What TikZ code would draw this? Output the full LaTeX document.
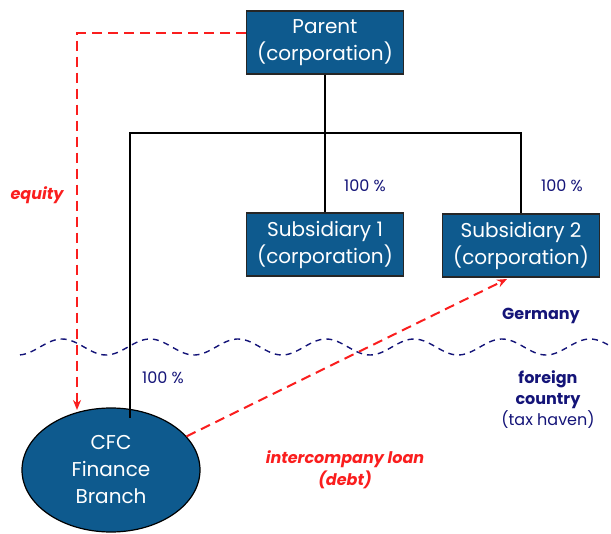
\documentclass[tikz,border=0pt]{standalone}
\usepackage{fontspec}
\setmainfont{Poppins}
\usetikzlibrary{shapes.geometric,arrows.meta}
\definecolor{boxblue}{RGB}{14,90,142}
\definecolor{navy}{RGB}{20,20,120}
\definecolor{lred}{RGB}{250,30,30}
\tikzset{
  corp/.style={draw=black!85, line width=1.2pt, fill=boxblue, text=white, minimum width=157pt, minimum height=63pt, inner sep=0pt, align=center, font=\fontsize{20}{27}\selectfont},
  tree/.style={draw=black, line width=1.1pt},
  redarrow/.style={draw=lred, line width=2pt, dash pattern=on 10pt off 6pt, -{Stealth[length=10pt,width=8pt]}},
  pct/.style={text=navy, font=\fontsize{16}{18}\selectfont},
  redlab/.style={text=lred, font=\fontsize{16}{22}\selectfont\bfseries\itshape, align=center},
  navylab/.style={text=navy, font=\fontsize{16}{21}\selectfont, align=center},
}
\begin{document}
\begin{tikzpicture}[x=1pt,y=-1pt]
\useasboundingbox (0,0) rectangle (611,534);
% wavy border
\draw[navy, line width=1.4pt, dash pattern=on 6pt off 5pt] plot[domain=20:611, samples=200, smooth] (\x, {347 - 8*cos(4.0909*(\x-62))});
% coordinates
\coordinate (j) at (325,133);
\coordinate (cfctop) at (130,418);
\coordinate (eqend) at (77,410);
% nodes
\node[corp] (parent) at (325,42.5) {Parent\\(corporation)};
\node[corp] (sub1) at (325,244.5) {Subsidiary 1\\(corporation)};
\node[corp] (sub2) at (521,245.5) {Subsidiary 2\\(corporation)};
% tree
\draw[tree] (parent.south) -- (j);
\draw[tree] (j) -- (sub1.north);
\draw[tree] (cfctop) |- (sub2.north |- j) -- (sub2.north);
\node[ellipse, draw=black, line width=1.2pt, fill=boxblue, text=white, minimum width=178pt, minimum height=124pt, inner sep=0pt, align=center, font=\fontsize{20}{27}\selectfont] (cfc) at (111,470) {CFC\\Finance\\Branch};
\draw[tree] (cfctop) -- (cfc.north -| cfctop);
% equity arrow
\draw[redarrow] ([yshift=9pt]parent.west) -| (eqend);
% loan arrow
\coordinate (loanend) at (507,279);
\draw[redarrow] (cfc.24) -- (loanend);
% labels
\node[pct] (p1) at (365,186) {100 \%};
\node[pct] (p2) at (562,186) {100 \%};
\node[pct] (p3) at (163,378) {100 \%};
\node[redlab] (eq) at (37,195) {equity};
\node[redlab] (loan) at (345,470) {intercompany loan\\(debt)};
\node[navylab, font=\fontsize{16}{21}\selectfont\bfseries] (de) at (541,316) {Germany};
\node[navylab] (fc) at (548,400) {\textbf{foreign}\\\textbf{country}\\(tax haven)};
\end{tikzpicture}
\end{document}
